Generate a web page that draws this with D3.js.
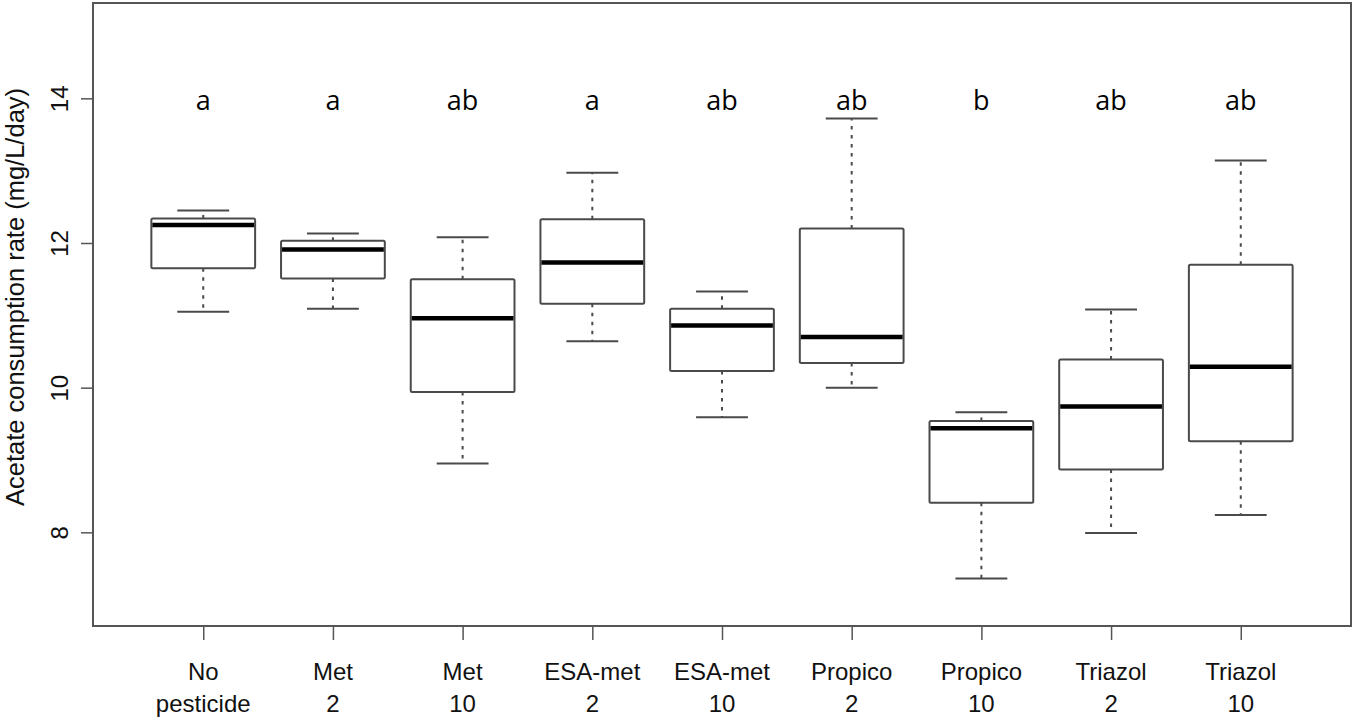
<!DOCTYPE html>
<html>
<head>
<meta charset="utf-8">
<script src="https://cdn.jsdelivr.net/npm/d3@7"></script>
<style>
  body { margin: 0; background: #fff; }
  svg { display: block; }
</style>
</head>
<body>
<svg id="chart" width="1355" height="720"></svg>
<script>
// treatments, in plotting order
let line1 = ['No', 'Met', 'Met', 'ESA-met', 'ESA-met', 'Propico', 'Propico', 'Triazol', 'Triazol']
let line2 = ['pesticide', '2', '10', '2', '10', '2', '10', '2', '10']
let letters = ['a', 'a', 'ab', 'a', 'ab', 'ab', 'b', 'ab', 'ab']

// box statistics (mg/L/day)
let whiskerHigh = [12.45, 12.13, 12.08, 12.97, 11.33, 13.72, 9.66, 11.08, 13.14]
let q3          = [12.34, 12.03, 11.50, 12.33, 11.09, 12.20, 9.54, 10.39, 11.70]
let median      = [12.25, 11.91, 10.96, 11.73, 10.86, 10.70, 9.44, 9.74, 10.29]
let q1          = [11.65, 11.51, 9.94, 11.16, 10.23, 10.34, 8.41, 8.87, 9.26]
let whiskerLow  = [11.05, 11.09, 8.95, 10.64, 9.59, 10.00, 7.36, 7.99, 8.24]

let yTicks = [8, 10, 12, 14]

let plot = {'left': 93, 'right': 1351, 'top': 3, 'bottom': 626}

let svg = d3.select('#chart')

let x = d3.scaleLinear().domain([0.15, 9.85]).range([plot.left, plot.right])
let y = d3.scaleLinear().domain([6.705, 15.318]).range([plot.bottom, plot.top])

let boxes = line1.map((d, i) => ({
  'pos': i + 1,
  'hi': whiskerHigh[i], 'q3': q3[i], 'med': median[i], 'q1': q1[i], 'lo': whiskerLow[i],
  'letter': letters[i]
}))

let boxW = 0.8
let capW = 0.4
let grey = '#4a4a4a'
let font = '"Liberation Sans", Arial, sans-serif'

let g = svg.append('g')

// whiskers (dashed)
g.selectAll('.whisker')
  .data(boxes.flatMap(d => [[d.pos, d.q3, d.hi], [d.pos, d.q1, d.lo]]))
  .join('line')
  .attr('class', 'whisker')
  .attr('x1', d => x(d[0])).attr('x2', d => x(d[0]))
  .attr('y1', d => y(d[1])).attr('y2', d => y(d[2]))
  .style('stroke', grey)
  .style('stroke-width', 2)
  .style('stroke-dasharray', '3.5,5.5')

// caps
g.selectAll('.cap')
  .data(boxes.flatMap(d => [[d.pos, d.hi], [d.pos, d.lo]]))
  .join('line')
  .attr('class', 'cap')
  .attr('x1', d => x(d[0] - capW / 2)).attr('x2', d => x(d[0] + capW / 2))
  .attr('y1', d => y(d[1])).attr('y2', d => y(d[1]))
  .style('stroke', grey)
  .style('stroke-width', 2)

// boxes
g.selectAll('.box')
  .data(boxes)
  .join('rect')
  .attr('class', 'box')
  .attr('x', d => x(d.pos - boxW / 2))
  .attr('width', d => x(d.pos + boxW / 2) - x(d.pos - boxW / 2))
  .attr('y', d => y(d.q3))
  .attr('height', d => y(d.q1) - y(d.q3))
  .attr('rx', 1.5)
  .style('fill', 'white')
  .style('stroke', grey)
  .style('stroke-width', 2)

// medians
g.selectAll('.median')
  .data(boxes)
  .join('line')
  .attr('class', 'median')
  .attr('x1', d => x(d.pos - boxW / 2) + 1).attr('x2', d => x(d.pos + boxW / 2) - 1)
  .attr('y1', d => y(d.med)).attr('y2', d => y(d.med))
  .style('stroke', '#000')
  .style('stroke-width', 4.5)

// significance letters
g.selectAll('.letter')
  .data(boxes)
  .join('text')
  .attr('class', 'letter')
  .attr('x', d => x(d.pos))
  .attr('y', 110)
  .attr('text-anchor', 'middle')
  .style('font-family', '"Open Sans", sans-serif')
  .style('font-size', '27px')
  .style('fill', '#000')
  .text(d => d.letter)

// frame
svg.append('rect')
  .attr('x', plot.left).attr('y', plot.top)
  .attr('width', plot.right - plot.left).attr('height', plot.bottom - plot.top)
  .style('fill', 'none')
  .style('stroke', '#555')
  .style('stroke-width', 2)

// y axis
let yAxis = svg.append('g')
  .attr('transform', `translate(${plot.left},0)`)
  .call(d3.axisLeft(y).tickValues(yTicks).tickSize(12).tickFormat(d3.format('d')))
yAxis.select('.domain').remove()
yAxis.selectAll('line').style('stroke', '#555').style('stroke-width', 1.5)
yAxis.selectAll('text')
  .attr('x', null).attr('dy', null)
  .attr('transform', d => `translate(-34,0) rotate(-90)`)
  .attr('text-anchor', 'middle')
  .attr('dominant-baseline', 'central')
  .style('font-family', font)
  .style('font-size', '24px')
  .style('fill', '#111')

// x axis
let xAxis = svg.append('g')
  .attr('transform', `translate(0,${plot.bottom})`)
  .call(d3.axisBottom(x).tickValues(boxes.map(d => d.pos)).tickSize(14).tickFormat(''))
xAxis.select('.domain').remove()
xAxis.selectAll('line').style('stroke', '#555').style('stroke-width', 1.5)

let xl = svg.append('g')
  .selectAll('text')
  .data(boxes)
  .join('text')
  .attr('x', d => x(d.pos))
  .attr('text-anchor', 'middle')
  .style('font-family', font)
  .style('font-size', '24px')
  .style('fill', '#111')
xl.append('tspan').attr('x', d => x(d.pos)).attr('y', 680).text((d, i) => line1[i])
xl.append('tspan').attr('x', d => x(d.pos)).attr('y', 712).text((d, i) => line2[i])

// y title
svg.append('text')
  .attr('transform', 'translate(24,297) rotate(-90)')
  .attr('text-anchor', 'middle')
  .style('font-family', font)
  .style('font-size', '25.5px')
  .style('fill', '#111')
  .text('Acetate consumption rate  (mg/L/day)')
</script>
</body>
</html>
